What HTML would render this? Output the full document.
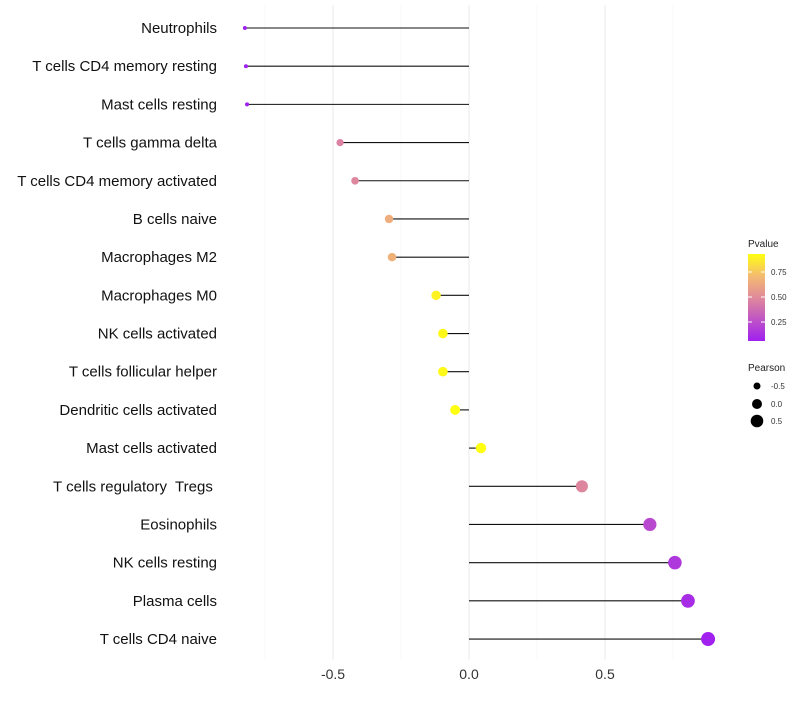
<!DOCTYPE html>
<html><head><meta charset="utf-8"><style>
body{margin:0;background:#fff;font-family:"Liberation Sans",sans-serif}
text{white-space:pre}
</style></head><body>
<svg id="c" width="800" height="700" xmlns="http://www.w3.org/2000/svg">
<defs><linearGradient id="pg" x1="0" y1="1" x2="0" y2="0">
<stop offset="0" stop-color="#a020f0"/><stop offset="0.5" stop-color="#e08a9a"/><stop offset="0.75" stop-color="#f4bb70"/><stop offset="1" stop-color="#ffff10"/>
</linearGradient></defs>
<g id="grid"></g><g id="marks"></g><g id="labels"></g>
<g>
<text x="748" y="247" font-size="10" fill="#222">Pvalue</text>
<rect x="748" y="254" width="17" height="87" fill="url(#pg)"/>
<line x1="748" y1="272" x2="752" y2="272" stroke="#fff"/><line x1="761" y1="272" x2="765" y2="272" stroke="#fff"/>
<line x1="748" y1="297" x2="752" y2="297" stroke="#fff"/><line x1="761" y1="297" x2="765" y2="297" stroke="#fff"/>
<line x1="748" y1="322" x2="752" y2="322" stroke="#fff"/><line x1="761" y1="322" x2="765" y2="322" stroke="#fff"/>
<text x="771" y="275" font-size="8" fill="#333">0.75</text>
<text x="771" y="300" font-size="8" fill="#333">0.50</text>
<text x="771" y="325" font-size="8" fill="#333">0.25</text>
</g>
<g>
<text x="748" y="371" font-size="10" fill="#222">Pearson</text>
<circle cx="757" cy="386" r="3.5"/><text x="771" y="389" font-size="8" fill="#333">-0.5</text>
<circle cx="757" cy="404" r="5"/><text x="771" y="407" font-size="8" fill="#333">0.0</text>
<circle cx="757" cy="421" r="6.3"/><text x="771" y="424" font-size="8" fill="#333">0.5</text>
</g>
</svg>
<script>
const categories=["Neutrophils","T cells CD4 memory resting","Mast cells resting","T cells gamma delta","T cells CD4 memory activated","B cells naive","Macrophages M2","Macrophages M0","NK cells activated","T cells follicular helper","Dendritic cells activated","Mast cells activated","T cells regulatory  Tregs ","Eosinophils","NK cells resting","Plasma cells","T cells CD4 naive"];
const pearson=[-0.824,-0.82,-0.816,-0.474,-0.419,-0.294,-0.283,-0.121,-0.096,-0.096,-0.051,0.044,0.415,0.665,0.757,0.805,0.879];
const pvalues=[0.01,0.01,0.01,0.45,0.47,0.64,0.66,0.88,0.9,0.9,0.92,0.95,0.47,0.22,0.15,0.1,0.06];
const xTicks=[-0.5,0,0.5];
const xTickLabels=["-0.5","0.0","0.5"];
const NS="http://www.w3.org/2000/svg";
const xs=v=>469+v*272;
const ys=i=>28+i*38.19;
const rs=v=>Math.sqrt(Math.max(1,25.7+26.5*v));
function lerp(a,b,t){return a+(b-a)*t}
function col(p){
  let t=Math.max(0,Math.min(1,(p-0.05)/0.87));
  const s=[[160,32,240],[224,138,154],[244,187,112],[255,255,16]];
  const pos=[0,0.5,0.75,1];
  let k=0; while(k<2&&t>pos[k+1])k++;
  const u=(t-pos[k])/(pos[k+1]-pos[k]);
  return `rgb(${[0,1,2].map(j=>Math.round(lerp(s[k][j],s[k+1][j],u))).join(',')})`;
}
function mk(tag,attrs,parent){const e=document.createElementNS(NS,tag);for(const k in attrs)e.setAttribute(k,attrs[k]);parent.appendChild(e);return e}
const grid=document.getElementById('grid'),marks=document.getElementById('marks'),labels=document.getElementById('labels');
[-0.75,-0.25,0.25,0.75].forEach(v=>{const l=mk('line',{x1:xs(v),x2:xs(v),y1:5,y2:660,stroke:'#f3f3f3','stroke-width':0.6},grid);

});
xTicks.forEach((v,i)=>{const l=mk('line',{x1:xs(v),x2:xs(v),y1:5,y2:660,stroke:'#ebebeb','stroke-width':1.1},grid);


const t=mk('text',{x:xs(v),y:679,'font-size':14,'text-anchor':'middle',fill:'#333'},labels);t.textContent=xTickLabels[i];

});
categories.forEach((c,i)=>{const y=ys(i);
const t=mk('text',{x:217,y:y+5,'font-size':15,'text-anchor':'end',fill:'#111'},labels);t.textContent=c;


const l=mk('line',{x1:xs(0),x2:xs(pearson[i]),y1:y,y2:y,stroke:'#111','stroke-width':1.1},marks);


const d=mk('circle',{cx:xs(pearson[i]),cy:y,r:rs(pearson[i]),fill:col(pvalues[i])},marks);


});
</script>
</body></html>
